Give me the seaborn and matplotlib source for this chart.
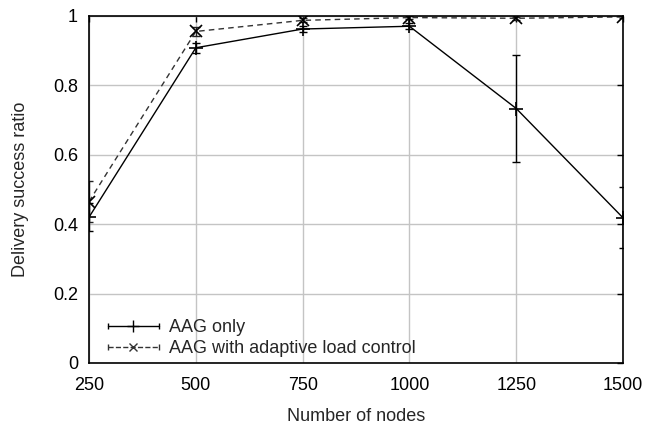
import numpy as np
import pandas as pd
import matplotlib
matplotlib.use("Agg")
import matplotlib.pyplot as plt
import seaborn as sns
from matplotlib.lines import Line2D
from matplotlib.legend_handler import HandlerBase

# Data
nodes = [250, 500, 750, 1000, 1250, 1500]
aag_only = [0.42, 0.908, 0.962, 0.970, 0.733, 0.418]
aag_only_err = [0.04, 0.015, 0.01, 0.008, 0.153, 0.088]
aag_adaptive = [0.465, 0.955, 0.987, 0.995, 0.993, 0.997]
aag_adaptive_err = [0.06, 0.012, 0.006, 0.004, 0.004, 0.003]


class ErrLineHandler(HandlerBase):
    """gnuplot-like legend key: line with end caps and the point marker in the middle."""

    def create_artists(self, legend, orig, xdescent, ydescent, width, height, fontsize, trans):
        y = height / 2 - ydescent
        x0, x1 = -xdescent, width - xdescent
        kw = dict(color=orig.get_color(), linewidth=orig.get_linewidth())
        line = Line2D([x0, x1], [y, y], linestyle=orig.get_linestyle(), **kw)
        caps = Line2D([x0, x1], [y, y], linestyle="none", marker="|", markersize=5, **kw)
        mid = Line2D([(x0 + x1) / 2], [y], linestyle="none", marker=orig.get_marker(),
                     markersize=orig.get_markersize(), **kw)
        for a in (line, caps, mid):
            a.set_transform(trans)
        return [line, caps, mid]


sns.set_theme(style="white")
plt.rcParams["font.family"] = ["Liberation Sans", "DejaVu Sans"]

FS = 13

fig = plt.figure(figsize=(6.47, 4.28), dpi=100)
ax = fig.add_axes([0.1376, 0.152, 0.8254, 0.811])

df = pd.DataFrame({"nodes": nodes, "only": aag_only, "adaptive": aag_adaptive})

ax.errorbar(nodes, aag_only, yerr=aag_only_err, fmt="none", ecolor="black",
            elinewidth=1.0, capsize=3, capthick=1.0)
ax.errorbar(nodes, aag_adaptive, yerr=aag_adaptive_err, fmt="none", ecolor="#222222",
            elinewidth=1.0, capsize=3, capthick=1.0)

sns.lineplot(data=df, x="nodes", y="only", ax=ax, color="black", linewidth=1.0,
             marker="+", markersize=10, markeredgewidth=1.2, markeredgecolor="black",
             legend=False)
sns.lineplot(data=df, x="nodes", y="adaptive", ax=ax, color="#333333", linewidth=1.0,
             linestyle=(0, (4, 3)), marker="x", markersize=8, markeredgewidth=1.2,
             markeredgecolor="black", legend=False)

ax.set_xlim(250, 1500)
ax.set_ylim(0, 1)
ax.set_xticks(nodes)
ax.set_yticks([0, 0.2, 0.4, 0.6, 0.8, 1.0])
ax.set_yticklabels(["0", "0.2", "0.4", "0.6", "0.8", "1"])
ax.grid(True, color="#c4c4c4", linewidth=1.0)
for s in ax.spines.values():
    s.set_color("black")
    s.set_linewidth(1.2)
ax.tick_params(direction="in", length=4, width=1, top=True, right=True,
               labelsize=FS, colors="black")
ax.tick_params(axis="x", pad=10)
ax.tick_params(axis="y", pad=8)

ax.set_xlabel("Number of nodes", fontsize=FS, labelpad=10)
ax.set_ylabel("Delivery success ratio", fontsize=FS, labelpad=17)

handles = [
    Line2D([], [], color="black", linewidth=1.0, marker="+", markersize=8),
    Line2D([], [], color="#333333", linewidth=1.0, linestyle=(0, (3, 3)), marker="x", markersize=6),
]
ax.legend(handles, ["AAG only", "AAG with adaptive load control"], loc="lower left",
          bbox_to_anchor=(19 / 534, 0.017), frameon=False, fontsize=FS, handlelength=2.8,
          labelspacing=0.2, handletextpad=0.55, borderpad=0, borderaxespad=0,
          handler_map={Line2D: ErrLineHandler()})

fig.savefig("out.png", dpi=100)
